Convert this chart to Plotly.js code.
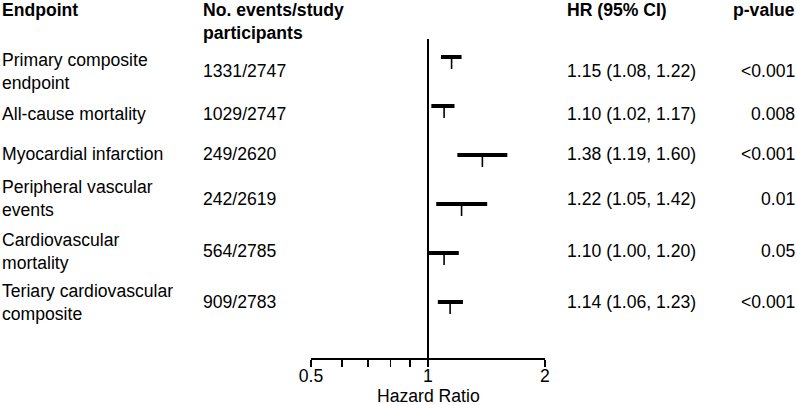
<!DOCTYPE html>
<html>
<head>
<meta charset="utf-8">
<script src="https://cdn.plot.ly/plotly-3.0.1.min.js"></script>
<style>html,body{margin:0;padding:0;background:#fff;}#chart{width:797px;height:405px;}</style>
</head>
<body>
<div id="chart"></div>
<script>
// ---- data ----
const endpoints = ['Primary composite<br>endpoint', 'All-cause mortality', 'Myocardial infarction',
                   'Peripheral vascular<br>events', 'Cardiovascular<br>mortality', 'Teriary cardiovascular<br>composite'];
const events = ['1331/2747', '1029/2747', '249/2620', '242/2619', '564/2785', '909/2783'];
const hr = [1.15, 1.10, 1.38, 1.22, 1.10, 1.14];
const ciLow = [1.08, 1.02, 1.19, 1.05, 1.00, 1.06];
const ciHigh = [1.22, 1.17, 1.60, 1.42, 1.20, 1.23];
const pValues = ['<0.001', '0.008', '<0.001', '0.01', '0.05', '<0.001'];
const headers = ['Endpoint', 'No. events/study<br>participants', 'HR (95% CI)', 'p-value'];
const xTitle = 'Hazard Ratio';
const tickVals = [0.5, 0.6, 0.7, 0.8, 0.9, 1, 2];
const tickText = ['0.5', '', '', '', '', '1', '2'];
const refValue = 1;

// ---- layout helpers (pixel placement of text columns) ----
const W = 797, H = 405;
const M = {l: 311, r: 252, t: 39, b: 47};
const pw = W - M.l - M.r, ph = H - M.t - M.b;
const px = p => (p - M.l) / pw;
const py = p => (H - M.b - p) / ph;
const textRowShift = [0.29, 0.17, -0.03, -0.11, -0.04, 0.0]; // vertical text placement within each row (layout)
const FONT = 'Liberation Sans, Arial, Helvetica, sans-serif';
const FS = 17.6;

const rows = endpoints.map((_, i) => i);

// CI bars
const ciX = [], ciY = [];
rows.forEach(i => { ciX.push(ciLow[i], ciHigh[i], null); ciY.push(i, i, null); });
// point estimate ticks (hang below the CI bar)
const tickDrop = 0.245;
const ptX = [], ptY = [];
rows.forEach(i => { ptX.push(hr[i], hr[i], null); ptY.push(i, i + tickDrop, null); });

const traces = [
  {x: ciX, y: ciY, mode: 'lines', line: {color: '#000', width: 4}, hoverinfo: 'skip', showlegend: false, cliponaxis: false},
  {x: ptX, y: ptY, mode: 'lines', line: {color: '#000', width: 1.6}, hoverinfo: 'skip', showlegend: false, cliponaxis: false}
];

const ann = [];
const txt = (x, y, text, xanchor, yref, align) => ({
  x: x, y: y, xref: 'paper', yref: yref, text: text, showarrow: false,
  xanchor: xanchor, yanchor: 'middle', align: align || xanchor,
  font: {family: FONT, size: FS, color: '#000'}
});
// headers
ann.push(txt(px(0), py(10), '<b>' + headers[0] + '</b>', 'left', 'paper'));
ann.push(txt(px(201), py(21.5), '<b>' + headers[1] + '</b>', 'left', 'paper'));
ann.push(txt(px(565), py(10), '<b>' + headers[2] + '</b>', 'left', 'paper'));
ann.push(txt(px(797), py(10), '<b>' + headers[3] + '</b>', 'right', 'paper'));
// x-axis title
const ttl = txt(0.5, py(395.5), xTitle, 'center', 'paper');
ttl.borderpad = 0;
ann.push(ttl);
// rows
rows.forEach(i => {
  const yy = i + textRowShift[i];
  ann.push(txt(px(0), yy, endpoints[i], 'left', 'y'));
  ann.push(txt(px(201), yy, events[i], 'left', 'y'));
  ann.push(txt(px(565), yy,
    hr[i].toFixed(2) + ' (' + ciLow[i].toFixed(2) + ', ' + ciHigh[i].toFixed(2) + ')', 'left', 'y'));
  ann.push(txt(px(797), yy, pValues[i], 'right', 'y'));
});

const rowPx = 49;
const layout = {
  width: W, height: H,
  margin: M,
  paper_bgcolor: '#fff', plot_bgcolor: '#fff',
  font: {family: FONT, size: FS, color: '#000'},
  showlegend: false,
  xaxis: {
    type: 'log', range: [Math.log10(0.5), Math.log10(2)],
    tickmode: 'array', tickvals: tickVals, ticktext: tickText,
    ticks: 'outside', ticklen: 7, tickwidth: 1.6, tickcolor: '#000',
    ticklabelstandoff: -6,
    showline: true, linewidth: 2, linecolor: '#000',
    showgrid: false, zeroline: false, fixedrange: true,
    tickfont: {family: FONT, size: FS, color: '#000'}
  },
  yaxis: {
    range: [5 + (H - M.b - (57 + 5 * rowPx)) / rowPx, -(57 - M.t) / rowPx],
    visible: false, showgrid: false, zeroline: false, fixedrange: true
  },
  shapes: [{
    type: 'line', xref: 'x', yref: 'y domain', x0: refValue, x1: refValue, y0: 0, y1: 1,
    line: {color: '#000', width: 2}
  }],
  annotations: ann
};

Plotly.newPlot('chart', traces, layout, {displayModeBar: false, staticPlot: true});
</script>
</body>
</html>
